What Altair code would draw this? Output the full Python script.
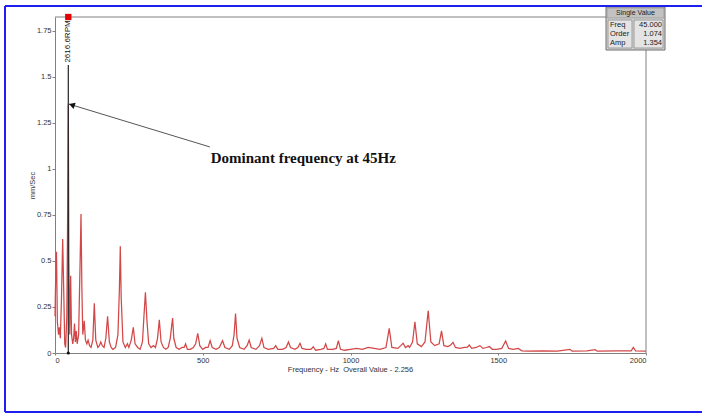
import altair as alt
import pandas as pd

# ---------------- data ----------------
freq = [0, 2, 5, 8, 12, 15, 18, 22, 26, 30, 33, 36, 40, 43, 45, 47, 50, 53, 56, 60,
        63, 66, 69, 72, 75, 80, 85, 88, 91, 94, 99, 103, 108, 112, 117, 122, 128, 133, 138, 145,
        150, 155, 160, 166, 172, 178, 184, 190, 196, 205, 213, 218, 221, 224, 230, 238, 245, 250, 258, 265,
        271, 280, 288, 296, 301, 306, 311, 317, 325, 333, 340, 347, 353, 359, 367, 375, 383, 390, 395, 398,
        402, 410, 420, 430, 437, 442, 448, 458, 468, 476, 483, 490, 500, 510, 518, 525, 532, 545, 556, 567,
        575, 590, 600, 606, 611, 616, 625, 640, 650, 657, 664, 680, 692, 700, 707, 722, 740, 747, 754, 770,
        782, 790, 797, 812, 822, 829, 836, 850, 866, 874, 882, 900, 910, 916, 922, 940, 952, 959, 966, 980,
        1000, 1020, 1040, 1060, 1080, 1100, 1120, 1131, 1140, 1160, 1170, 1178, 1186, 1195, 1200, 1210, 1218, 1226, 1240, 1252,
        1263, 1272, 1285, 1300, 1308, 1316, 1330, 1340, 1347, 1355, 1370, 1385, 1395, 1402, 1410, 1425, 1438, 1448, 1460, 1470,
        1480, 1495, 1512, 1525, 1535, 1550, 1568, 1580, 1600, 1650, 1700, 1743, 1750, 1800, 1828, 1835, 1900, 1950, 1957, 1965,
        2000]
amp = [0.20, 0.38, 0.55, 0.17, 0.10, 0.14, 0.08, 0.30, 0.62, 0.30, 0.05, 0.03, 0.20, 0.79, 1.354, 0.50, 0.10, 0.42, 0.10, 0.05,
       0.08, 0.16, 0.06, 0.12, 0.05, 0.10, 0.50, 0.755, 0.35, 0.10, 0.175, 0.07, 0.05, 0.07, 0.04, 0.03, 0.07, 0.27, 0.07, 0.03,
       0.04, 0.06, 0.04, 0.03, 0.08, 0.20, 0.06, 0.03, 0.02, 0.03, 0.10, 0.35, 0.58, 0.30, 0.06, 0.03, 0.05, 0.03, 0.07, 0.14,
       0.05, 0.03, 0.02, 0.06, 0.20, 0.33, 0.18, 0.05, 0.03, 0.04, 0.03, 0.08, 0.18, 0.06, 0.03, 0.02, 0.03, 0.08, 0.15, 0.19,
       0.08, 0.03, 0.02, 0.03, 0.03, 0.05, 0.02, 0.02, 0.03, 0.05, 0.107, 0.04, 0.02, 0.03, 0.03, 0.067, 0.03, 0.02, 0.03, 0.067,
       0.03, 0.02, 0.04, 0.10, 0.215, 0.08, 0.03, 0.02, 0.04, 0.07, 0.03, 0.02, 0.04, 0.08, 0.03, 0.02, 0.025, 0.04, 0.02, 0.02,
       0.03, 0.06, 0.03, 0.02, 0.03, 0.053, 0.025, 0.02, 0.02, 0.034, 0.015, 0.02, 0.025, 0.05, 0.02, 0.02, 0.025, 0.067, 0.02, 0.015,
       0.02, 0.025, 0.02, 0.03, 0.025, 0.02, 0.03, 0.134, 0.03, 0.025, 0.04, 0.053, 0.03, 0.04, 0.03, 0.06, 0.17, 0.05, 0.035, 0.06,
       0.23, 0.06, 0.04, 0.05, 0.12, 0.04, 0.035, 0.045, 0.058, 0.03, 0.025, 0.03, 0.03, 0.043, 0.025, 0.03, 0.04, 0.025, 0.03, 0.035,
       0.02, 0.02, 0.025, 0.065, 0.025, 0.02, 0.025, 0.012, 0.01, 0.012, 0.01, 0.02, 0.01, 0.012, 0.018, 0.01, 0.012, 0.012, 0.03, 0.012,
       0.01]

x_ticks = [0, 500, 1000, 1500, 2000]
y_ticks = [0, 0.25, 0.5, 0.75, 1, 1.25, 1.5, 1.75]
x_title = "Frequency - Hz\u00a0 Overall Value - 2.256"
y_title = "mm/Sec"

dom_freq = [45.0]
cursor_top = [1.565]
peak_amp = [1.354]
rpm_label = "2616.6RPM"
annot_text = "Dominant frequency at 45Hz"
annot_anchor = [524.0, 1.12]      # where the arrow leaves the caption
caption_pos = [527.0, 1.06]
box_header = "Single Value"
box_labels = ["Freq", "Order", "Amp"]
box_values = ["45.000", "1.074", "1.354"]

# ---------------- layout ----------------
W, H = 591, 336
XMAX, YMAX = 2000, 1.826
FONT = "Liberation Sans"

xs = alt.Scale(domain=[0, XMAX], nice=False, zero=False)
ys = alt.Scale(domain=[0, YMAX], nice=False)
one = alt.Data(values=[{}])

spec_df = pd.DataFrame({"f": freq, "a": amp})

xaxis = alt.Axis(values=x_ticks, labelExpr="format(datum.value, 'd')", title=x_title, grid=False,
                 titleX=295, titleY=16, titleAlign="center", titleBaseline="middle",
                 tickSize=2, labelPadding=1)
yaxis = alt.Axis(values=y_ticks, labelExpr="format(datum.value, '.2~f')", title=y_title, grid=False,
                 titleX=-23, titleY=168, titleAngle=270, titleAlign="center",
                 titleBaseline="middle", tickSize=3, labelPadding=1)

spectrum = alt.Chart(spec_df).mark_line(color="#d24848", strokeWidth=1.25).encode(
    x=alt.X("f:Q", scale=xs, axis=xaxis),
    y=alt.Y("a:Q", scale=ys, axis=yaxis),
)

# frame (top and right)
frame_top = alt.Chart(one).mark_rule(color="#808080", strokeWidth=1).encode(
    x=alt.value(0), x2=alt.value(551), y=alt.value(0))
frame_right = alt.Chart(one).mark_rule(color="#808080", strokeWidth=1).encode(
    x=alt.value(W), y=alt.value(33), y2=alt.value(H))

# cursor at dominant frequency
cur_df = pd.DataFrame({"f": dom_freq, "a0": [0.0], "a1": cursor_top, "top": [YMAX],
                       "tpos": [1.693], "pk": peak_amp})
cursor = alt.Chart(cur_df).mark_rule(color="#222222", strokeWidth=1.2).encode(
    x=alt.X("f:Q", scale=xs), y=alt.Y("a0:Q", scale=ys), y2="a1:Q")
cursor_dot = alt.Chart(cur_df).mark_point(filled=True, color="#111111", size=10, opacity=1).encode(
    x=alt.X("f:Q", scale=xs), y=alt.Y("a0:Q", scale=ys))
cursor_mark = alt.Chart(cur_df).mark_square(color="#e00000", size=40, opacity=1).encode(
    x=alt.X("f:Q", scale=xs), y=alt.Y("top:Q", scale=ys))
rpm_text = alt.Chart(cur_df).mark_text(text=rpm_label, angle=270, font=FONT, fontSize=8,
                                       color="#111111", align="center", baseline="middle").encode(
    x=alt.X("f:Q", scale=xs), y=alt.Y("tpos:Q", scale=ys))

# annotation arrow and caption
arrow_df = pd.DataFrame({"f": [dom_freq[0], annot_anchor[0]], "a": [peak_amp[0], annot_anchor[1]]})
arrow_line = alt.Chart(arrow_df).mark_line(color="#555555", strokeWidth=1).encode(
    x=alt.X("f:Q", scale=xs), y=alt.Y("a:Q", scale=ys))
head_df = pd.DataFrame({"f": [57.0], "a": [1.348]})
arrow_head = alt.Chart(head_df).mark_point(shape="triangle-up", angle=288, filled=True,
                                           color="#111111", size=45, opacity=1).encode(
    x=alt.X("f:Q", scale=xs), y=alt.Y("a:Q", scale=ys))
cap_df = pd.DataFrame({"f": [caption_pos[0]], "a": [caption_pos[1]]})
caption = alt.Chart(cap_df).mark_text(text=annot_text, font="Liberation Serif", fontWeight="bold",
                                      fontSize=15, align="left", baseline="middle",
                                      color="#111111").encode(
    x=alt.X("f:Q", scale=xs), y=alt.Y("a:Q", scale=ys))

# Single Value box
box_outer = alt.Chart(one).mark_rect(fill="#d4d4d4", stroke="#707070", strokeWidth=1).encode(
    x=alt.value(551), x2=alt.value(610), y=alt.value(-10), y2=alt.value(33))
box_head = alt.Chart(one).mark_rect(fill="#c2c2c2", stroke="#8a8a8a", strokeWidth=0.6).encode(
    x=alt.value(552), x2=alt.value(609), y=alt.value(-9), y2=alt.value(1))
cell_l = alt.Chart(one).mark_rect(fill="#e4e4e4", stroke="#8a8a8a", strokeWidth=0.8).encode(
    x=alt.value(553), x2=alt.value(577), y=alt.value(3), y2=alt.value(31))
cell_r = alt.Chart(one).mark_rect(fill="#e4e4e4", stroke="#8a8a8a", strokeWidth=0.8).encode(
    x=alt.value(579), x2=alt.value(608), y=alt.value(3), y2=alt.value(31))
head_txt = alt.Chart(one).mark_text(text=box_header, font=FONT, fontSize=7, color="#222222",
                                    align="center", baseline="middle").encode(
    x=alt.value(580.5), y=alt.value(-4))
box_layers = [box_outer, box_head, cell_l, cell_r, head_txt]
for i, (lab, val) in enumerate(zip(box_labels, box_values)):
    box_layers.append(alt.Chart(one).mark_text(text=lab, font=FONT, fontSize=7.5, color="#222222",
                                               align="left", baseline="middle").encode(
        x=alt.value(555), y=alt.value(8 + 9 * i)))
    box_layers.append(alt.Chart(one).mark_text(text=val, font=FONT, fontSize=7.5, color="#222222",
                                               align="right", baseline="middle").encode(
        x=alt.value(607), y=alt.value(8 + 9 * i)))

# blue outer border
BLUE = "#1e1ef0"
b_top = alt.Chart(one).mark_rule(color=BLUE, strokeWidth=2).encode(
    x=alt.value(-50), x2=alt.value(647), y=alt.value(-11))
b_left = alt.Chart(one).mark_rule(color=BLUE, strokeWidth=2).encode(
    x=alt.value(-50), y=alt.value(-11), y2=alt.value(395))
b_bot = alt.Chart(one).mark_rule(color=BLUE, strokeWidth=2).encode(
    x=alt.value(-50), x2=alt.value(647), y=alt.value(395))

chart = alt.layer(
    spectrum, frame_top, frame_right, cursor, cursor_dot, rpm_text,
    arrow_line, arrow_head, caption, *box_layers, cursor_mark, b_top, b_left, b_bot
).properties(
    width=W, height=H,
    autosize="none",
    padding={"left": 55, "top": 17, "right": 56, "bottom": 61},
    background="white",
).configure_view(stroke=None).configure_axis(
    domainColor="#808080", tickColor="#808080", labelFont=FONT, labelFontSize=7.5,
    labelColor="#333333", titleFont=FONT, titleFontSize=7.5, titleFontWeight="normal",
    titleColor="#333333",
)

chart.save("out.html", embed_options={"renderer": "svg", "actions": False})
